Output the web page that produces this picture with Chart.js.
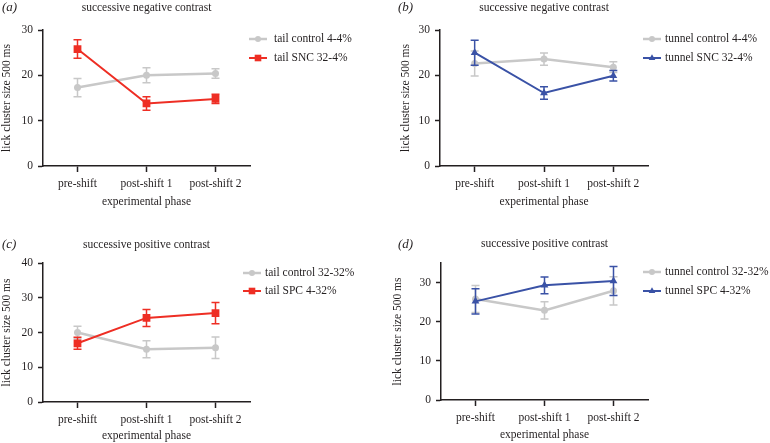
<!DOCTYPE html>
<html><head><meta charset="utf-8">
<script src="https://cdn.jsdelivr.net/npm/chart.js@4.4.1/dist/chart.umd.min.js"></script>
<style>
html,body{margin:0;padding:0;background:#fff;}
body{width:770px;height:443px;position:relative;overflow:hidden;}
canvas{position:absolute;}
</style></head><body>
<canvas id="ca" width="385" height="220" style="left:0;top:0"></canvas>
<canvas id="cb" width="385" height="220" style="left:385px;top:0"></canvas>
<canvas id="cc" width="385" height="223" style="left:0;top:220px"></canvas>
<canvas id="cd" width="385" height="223" style="left:385px;top:220px"></canvas>
<script>
// ---- data ----
const categories = ['pre-shift', 'post-shift 1', 'post-shift 2'];
const ticksA = [0, 10, 20, 30];
const ticksB = [0, 10, 20, 30];
const ticksC = [0, 10, 20, 30, 40];
const ticksD = [0, 10, 20, 30];

const tailControlNeg = [17.3, 20.0, 20.4];
const tailControlNegErr = [2.0, 1.65, 1.05];
const tailSNC = [25.8, 13.8, 14.8];
const tailSNCErr = [2.05, 1.5, 1.0];

const tunnelControlNeg = [22.6, 23.6, 21.8];
const tunnelControlNegErr = [2.75, 1.35, 1.2];
const tunnelSNC = [25.0, 16.1, 19.9];
const tunnelSNCErr = [2.75, 1.4, 1.15];

const tailControlPos = [20.0, 15.2, 15.6];
const tailControlPosErr = [1.8, 2.45, 3.1];
const tailSPC = [16.9, 24.2, 25.6];
const tailSPCErr = [1.75, 2.45, 3.05];

const tunnelControlPos = [25.8, 22.9, 27.9];
const tunnelControlPosErr = [3.45, 2.2, 3.6];
const tunnelSPC = [25.2, 29.3, 30.4];
const tunnelSPCErr = [3.25, 2.15, 3.7];

// ---- styling ----
const FONT = '"Liberation Serif", "DejaVu Serif", serif';
const INK = '#231f20';
const GRAY = '#c8c8c8';
const RED = '#ee2e24';
const BLUE = '#3a52a6';

function drawMarker(ctx, style, x, y, r, color) {
  ctx.fillStyle = color;
  ctx.beginPath();
  if (style === 'circle') {
    ctx.arc(x, y, r, 0, Math.PI * 2);
  } else if (style === 'rect') {
    const s = Math.SQRT1_2 * r;
    ctx.rect(x - s, y - s, 2 * s, 2 * s);
  } else if (style === 'triangle') {
    ctx.moveTo(x, y - r);
    ctx.lineTo(x + r * Math.sin(Math.PI * 2 / 3), y - r * Math.cos(Math.PI * 2 / 3));
    ctx.lineTo(x - r * Math.sin(Math.PI * 2 / 3), y - r * Math.cos(Math.PI * 2 / 3));
    ctx.closePath();
  }
  ctx.fill();
}

const errorBars = {
  id: 'errorBars',
  beforeDatasetDraw(chart, args) {
    const ds = chart.data.datasets[args.index];
    if (!ds.errors) return;
    const ctx = chart.ctx, xs = chart.scales.x, ys = chart.scales.y;
    ctx.save();
    ctx.strokeStyle = ds.borderColor;
    ctx.lineWidth = 1.5;
    ds.data.forEach((v, i) => {
      const px = xs.getPixelForValue(i);
      const e = ds.errors[i];
      const y1 = ys.getPixelForValue(v - e), y2 = ys.getPixelForValue(v + e);
      ctx.beginPath();
      ctx.moveTo(px, y1); ctx.lineTo(px, y2);
      ctx.moveTo(px - 4, y1); ctx.lineTo(px + 4, y1);
      ctx.moveTo(px - 4, y2); ctx.lineTo(px + 4, y2);
      ctx.stroke();
    });
    ctx.restore();
  }
};

const panelDeco = {
  id: 'panelDeco',
  afterDraw(chart, args, o) {
    const ctx = chart.ctx;
    ctx.save();
    ctx.fillStyle = INK;
    ctx.textBaseline = 'middle';
    ctx.textAlign = 'left';
    ctx.font = 'italic 13px ' + FONT;
    ctx.fillText(o.letter, o.letterX, o.letterY);
    ctx.font = '11.5px ' + FONT;
    chart.data.datasets.forEach((ds, i) => {
      const y = o.ly + i * o.ldy;
      ctx.strokeStyle = ds.borderColor;
      ctx.lineWidth = ds.borderWidth;
      ctx.beginPath();
      ctx.moveTo(o.lx, y); ctx.lineTo(o.lx + 18, y);
      ctx.stroke();
      drawMarker(ctx, ds.pointStyle, o.lx + 9, y, ds.pointRadius * 0.85, ds.borderColor);
      ctx.fillStyle = INK;
      ctx.fillText(ds.label, o.lx + o.tx, y);
    });
    ctx.restore();
  }
};

function makePanel(id, p) {
  const ds = (label, data, errors, color, style, r, bw, order) => ({
    label, data, errors, borderColor: color, backgroundColor: color,
    pointStyle: style, pointRadius: r, pointBorderWidth: 0, pointHoverRadius: r,
    borderWidth: bw, tension: 0, fill: false, order
  });
  new Chart(document.getElementById(id), {
    type: 'line',
    data: {
      labels: categories,
      datasets: [
        ds(p.ctrlLabel, p.ctrl, p.ctrlErr, GRAY, 'circle', 3.5, 2.5, 1),
        ds(p.expLabel, p.exp, p.expErr, p.color, p.style, p.style === 'rect' ? 5.5 : 4.5, 2, 0)
      ]
    },
    options: {
      responsive: false,
      animation: false,
      layout: { padding: p.pad },
      scales: {
        x: {
          type: 'category',
          offset: true,
          afterFit(s) { s.height = p.xH; },
          grid: { display: true, drawOnChartArea: false, drawTicks: true, tickLength: 6, tickColor: INK, tickWidth: 1.5, offset: false },
          border: { display: true, color: INK, width: 1.5 },
          ticks: { color: INK, font: { family: FONT, size: 11.5 }, padding: 5, maxRotation: 0 },
          title: { display: true, text: 'experimental phase', color: INK, font: { family: FONT, size: 11.5 }, padding: { top: 0, bottom: p.xTitlePad } }
        },
        y: {
          min: 0, max: p.ymax,
          afterFit(s) { s.width = p.yW; },
          afterBuildTicks(s) { s.ticks = p.ticks.map(v => ({ value: v })); },
          grid: { display: true, drawOnChartArea: false, drawTicks: true, tickLength: 5, tickColor: INK, tickWidth: 1.5 },
          border: { display: true, color: INK, width: 1.5 },
          ticks: { color: INK, font: { family: FONT, size: 11.5 }, padding: 5 },
          title: { display: true, text: 'lick cluster size 500 ms', color: INK, font: { family: FONT, size: 11.5 }, padding: { top: p.yTitlePad, bottom: 0 } }
        }
      },
      plugins: {
        legend: { display: false },
        tooltip: { enabled: false },
        title: {
          display: true, text: p.title, fullSize: false, color: INK,
          font: { family: FONT, size: 11.5, weight: 'normal' },
          padding: p.titlePad
        },
        panelDeco: p.deco
      }
    },
    plugins: [errorBars, panelDeco]
  });
}

makePanel('ca', {
  title: 'successive negative contrast',
  ctrlLabel: 'tail control 4-4%', ctrl: tailControlNeg, ctrlErr: tailControlNegErr,
  expLabel: 'tail SNC 32-4%', exp: tailSNC, expErr: tailSNCErr,
  color: RED, style: 'rect', ymax: 30, ticks: ticksA,
  pad: { left: 0, right: 135, top: 0, bottom: 0 }, yW: 43, xH: 54,
  titlePad: { top: 0.6, bottom: 15.6 }, yTitlePad: 0, xTitlePad: 11,
  deco: { letter: '(a)', letterX: 2, letterY: 8, lx: 249, ly: 39, ldy: 19, tx: 25 }
});
makePanel('cb', {
  title: 'successive negative contrast',
  ctrlLabel: 'tunnel control 4-4%', ctrl: tunnelControlNeg, ctrlErr: tunnelControlNegErr,
  expLabel: 'tunnel SNC 32-4%', exp: tunnelSNC, expErr: tunnelSNCErr,
  color: BLUE, style: 'triangle', ymax: 30, ticks: ticksB,
  pad: { left: 0, right: 122, top: 0, bottom: 0 }, yW: 55, xH: 54,
  titlePad: { top: 0.6, bottom: 15.6 }, yTitlePad: 14, xTitlePad: 11,
  deco: { letter: '(b)', letterX: 13, letterY: 8, lx: 258, ly: 39, ldy: 19, tx: 22 }
});
makePanel('cc', {
  title: 'successive positive contrast',
  ctrlLabel: 'tail control 32-32%', ctrl: tailControlPos, ctrlErr: tailControlPosErr,
  expLabel: 'tail SPC 4-32%', exp: tailSPC, expErr: tailSPCErr,
  color: RED, style: 'rect', ymax: 40, ticks: ticksC,
  pad: { left: 0, right: 135, top: 0, bottom: 0 }, yW: 43, xH: 41,
  titlePad: { top: 18, bottom: 11.2 }, yTitlePad: 0, xTitlePad: 0,
  deco: { letter: '(c)', letterX: 2, letterY: 25, lx: 243, ly: 53, ldy: 18, tx: 22 }
});
makePanel('cd', {
  title: 'successive positive contrast',
  ctrlLabel: 'tunnel control 32-32%', ctrl: tunnelControlPos, ctrlErr: tunnelControlPosErr,
  expLabel: 'tunnel SPC 4-32%', exp: tunnelSPC, expErr: tunnelSPCErr,
  color: BLUE, style: 'triangle', ymax: 35, ticks: ticksD,
  pad: { left: 0, right: 122, top: 0, bottom: 0 }, yW: 56, xH: 43,
  titlePad: { top: 17, bottom: 12.2 }, yTitlePad: 6, xTitlePad: 1,
  deco: { letter: '(d)', letterX: 13, letterY: 25, lx: 258, ly: 52, ldy: 19, tx: 22 }
});
</script>
</body></html>
